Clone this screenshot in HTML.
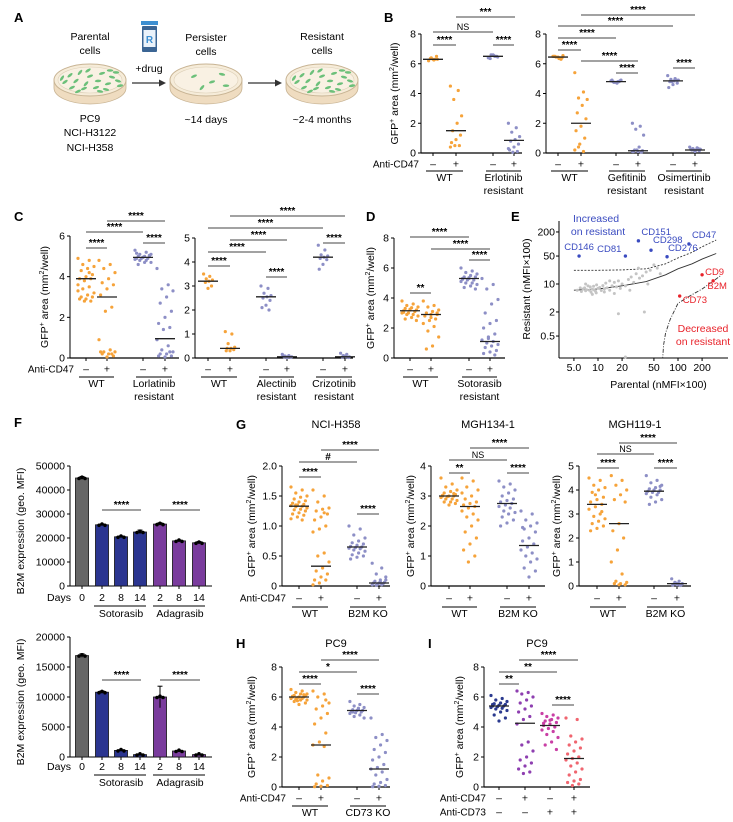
<!DOCTYPE html>
<html><head><meta charset="utf-8"><title>Figure</title>
<style>
html,body{margin:0;padding:0;background:#fff;}
svg{display:block;font-family:"Liberation Sans",Arial,sans-serif;}
</style></head>
<body>
<svg id="fig" width="733" height="822" viewBox="0 0 733 822" xmlns="http://www.w3.org/2000/svg">
<g>
  <text x="14" y="22" font-size="13" font-weight="bold">A</text>
  <text x="90" y="40" font-size="10.5" text-anchor="middle">Parental</text>
  <text x="90" y="54" font-size="10.5" text-anchor="middle">cells</text>
  <text x="206" y="41" font-size="10.5" text-anchor="middle">Persister</text>
  <text x="206" y="55" font-size="10.5" text-anchor="middle">cells</text>
  <text x="322" y="40" font-size="10.5" text-anchor="middle">Resistant</text>
  <text x="322" y="54" font-size="10.5" text-anchor="middle">cells</text>
  <g>
    <rect x="141" y="21" width="17" height="4" fill="#3d8fd1"/>
    <rect x="142" y="26" width="15" height="26" rx="1" fill="#3b6594"/>
    <rect x="143.5" y="30" width="12" height="17" fill="#eaf2fa"/>
    <text x="149.5" y="43" font-size="10" fill="#3d8fd1" text-anchor="middle" font-weight="bold">R</text>
  </g>
  <text x="149" y="72" font-size="10.5" text-anchor="middle">+drug</text>
  <g><line x1="132" y1="83" x2="161" y2="83" stroke="#333" stroke-width="1.2"/><polygon points="166,83 159,79.5 159,86.5" fill="#333"/></g>
  <g><line x1="248" y1="83" x2="277" y2="83" stroke="#333" stroke-width="1.2"/><polygon points="282,83 275,79.5 275,86.5" fill="#333"/></g>
  <g id="dishes"></g>
  <text x="90" y="122" font-size="10.5" text-anchor="middle">PC9</text>
  <text x="90" y="136" font-size="10.5" text-anchor="middle">NCI-H3122</text>
  <text x="90" y="151" font-size="10.5" text-anchor="middle">NCI-H358</text>
  <text x="206" y="123" font-size="10.5" text-anchor="middle">~14 days</text>
  <text x="322" y="123" font-size="10.5" text-anchor="middle">~2-4 months</text>
</g>
<g id="plots"></g>
</svg>
<script>
// ---------- DATA ----------
// Panel B (left): WT -, WT +, Erlotinib-res -, Erlotinib-res +
const bL_wt0=[6.2,6.3,6.4,6.3,6.25,6.35,6.5,6.3];
const bL_wt1=[4.5,4.2,3.6,2.5,2.0,1.5,1.2,0.9,0.7,0.5,0.5,0.4];
const bL_er0=[6.4,6.5,6.6,6.45,6.55,6.35,6.5,6.6,6.4];
const bL_er1=[2.0,1.7,1.4,1.1,0.9,0.8,0.6,0.4,0.2,0.1,0.05,0.3];
const bL_med=[6.3,1.5,6.5,0.85];
// Panel B (right)
const bR_wt0=[6.5,6.4,6.45,6.55,6.35,6.5,6.4,6.45,6.5,6.3];
const bR_wt1=[5.4,4.1,3.7,3.6,3.2,2.7,2.3,1.8,1.5,1.0,0.6,0.2,0.1,0.4];
const bR_gef0=[4.85,4.8,4.75,4.9,4.7,4.8,4.85,4.75,4.9,4.8];
const bR_gef1=[2.0,1.8,1.6,1.2,0.4,0.2,0.15,0.1,0.1,0.05,0.2,0.1];
const bR_osi0=[5.2,5.0,4.95,4.9,4.85,4.8,4.7,4.6,4.4,4.9,4.8];
const bR_osi1=[0.4,0.35,0.3,0.25,0.2,0.2,0.15,0.1,0.25,0.3,0.2];
const bR_med=[6.45,2.0,4.8,0.15,4.85,0.2];
// Panel C (left)
const cL_wt0=[4.9,4.8,4.6,4.5,4.4,4.3,4.1,4.0,3.9,3.9,3.8,3.6,3.5,3.4,3.2,3.1,3.0,3.0,2.9,2.9,2.8,2.8,3.3,4.2];
const cL_wt1=[4.8,4.6,4.4,4.2,3.9,3.7,3.6,3.4,3.1,2.5,2.3,0.9,0.4,0.3,0.3,0.2,0.2,0.1,0.05,0.3,0.2];
const cL_lo0=[5.3,5.2,5.1,5.1,5.0,5.0,5.0,4.95,4.9,4.9,4.9,4.85,4.8,4.8,4.7,4.7,4.6,5.05,4.95,5.15];
const cL_lo1=[4.4,3.6,3.4,3.3,3.0,2.7,2.3,2.0,1.7,1.5,1.4,0.9,0.6,0.4,0.3,0.2,0.2,0.1,0.05,0.1,0.3];
const cL_med=[3.9,3.0,4.95,0.95];
// Panel C (right)
const cR_wt0=[3.5,3.4,3.3,3.25,3.2,3.15,3.0,2.9];
const cR_wt1=[1.1,1.0,0.6,0.45,0.4,0.4,0.35,0.3,0.3];
const cR_al0=[3.0,2.9,2.7,2.6,2.55,2.5,2.4,2.2,2.1,2.0];
const cR_al1=[0.15,0.1,0.08,0.05,0.05,0.04,0.03,0.02,0.1];
const cR_cr0=[4.7,4.5,4.3,4.25,4.2,4.15,4.1,3.9,3.7];
const cR_cr1=[0.2,0.15,0.1,0.05,0.05,0.03,0.02,0.08];
const cR_med=[3.2,0.4,2.55,0.05,4.2,0.05];
// Panel D
const d_wt0=[3.8,3.6,3.5,3.4,3.35,3.3,3.2,3.2,3.15,3.1,3.0,3.0,2.9,2.9,2.8,2.7,2.6,2.5,3.25,3.05];
const d_wt1=[3.8,3.5,3.4,3.2,3.1,3.0,2.9,2.9,2.8,2.6,2.5,2.3,2.1,1.8,1.4,0.8,0.6,3.0,2.7];
const d_so0=[6.0,5.8,5.7,5.6,5.5,5.4,5.4,5.3,5.3,5.2,5.2,5.1,5.0,5.0,4.9,4.8,4.7,4.6,5.35,5.25];
const d_so1=[5.3,4.9,4.6,3.9,3.6,3.0,2.5,2.3,2.0,1.6,1.4,1.2,1.1,1.0,0.9,0.8,0.7,0.5,0.4,0.3,0.2,1.3];
const d_med=[3.15,2.9,5.3,1.1];
// Panel E (log-log scatter)
const eX=[5.5,6,6.2,6.5,6.8,7,7.2,7.5,7.8,8,8.2,8.5,8.8,9,9.3,9.6,10,10.5,11,11.5,12,12.5,13,14,15,16,17,18,19,20,22,24,26,28,30,33,36,40,45,55,18,22,38,50,60,8.5,9.5,12,14,16,7,25,32,42];
const eY=[7,8,6.5,7.5,8,6.8,7.2,9,7,8.5,6.2,7.4,8.8,7.1,6.6,9.5,7.8,8.2,6.9,9.1,7.5,10.5,8,7,9,11,8.5,12,7.8,10,9,13,15,11,18,14,16,20,22,25,1.8,0.15,2,30,18,5.5,6,6.3,12,5.8,10,7,25,10];
const eLabNames=['CD146','CD81','CD151','CD298','CD276','CD47','CD9','B2M','CD73'];
const eLabX=[5.8,22,32,46,73,137,200,275,105];
const eLabY=[50,50,120,70,48,100,17,12,5];
const eSolidX=[5,10,20,40,70,100,150,200,300];
const eSolidY=[7,7.5,9,11.5,17,24,32,42,58];
const eDashX=[5,10,20,40,70,100,150,200,300];
const eDashY=[22,22,22.5,24,32,45,62,85,126];
const eDotX=[64,66,70,80,100,140,200,340];
const eDotY=[0.12,0.3,0.6,1.3,3.3,5,7.5,16];
const eXTicks=[5,10,20,50,100,200];
const eXTickLabels=['5.0','10','20','50','100','200'];
const eYTicks=[0.5,2,10,50,200];
const eYTickLabels=['0.5','2','10','50','200'];
// Panel F
const fDays=['0','2','8','14','2','8','14'];
const fTopVals=[45000,25500,20500,22500,25800,18800,18000];
const fTopErr=[600,300,300,800,500,300,500];
const fBotVals=[16900,10800,1100,400,10000,1000,400];
const fBotErr=[300,200,100,50,1800,100,50];
// Panel G
const g1_a=[1.65,1.6,1.55,1.5,1.48,1.45,1.42,1.4,1.38,1.36,1.35,1.34,1.33,1.32,1.3,1.28,1.27,1.25,1.22,1.2,1.18,1.15,1.12,1.1,1.35,1.31];
const g1_b=[1.6,1.5,1.4,1.3,1.28,1.25,1.2,1.15,1.1,1.0,0.95,0.9,0.55,0.5,0.4,0.3,0.25,0.2,0.15,0.1,0.1,0.05,0.02,1.22];
const g1_c=[1.0,0.95,0.85,0.8,0.75,0.72,0.7,0.68,0.66,0.65,0.64,0.63,0.62,0.6,0.58,0.55,0.52,0.5,0.48,0.45];
const g1_d=[0.38,0.3,0.2,0.15,0.1,0.08,0.06,0.05,0.05,0.04,0.03,0.02,0.02,0.01,0.1,0.07];
const g1_med=[1.33,0.33,0.65,0.05];
const g2_a=[3.6,3.4,3.3,3.2,3.15,3.1,3.05,3.0,3.0,3.0,2.98,2.95,2.9,2.9,2.85,2.8,2.8,2.75,2.7,3.02,3.08];
const g2_b=[3.6,3.5,3.3,3.2,3.0,2.9,2.8,2.75,2.7,2.65,2.6,2.5,2.4,2.3,2.2,2.0,1.8,1.6,1.4,1.2,1.0,0.8,3.1];
const g2_c=[3.5,3.4,3.3,3.2,3.1,3.0,2.9,2.85,2.8,2.75,2.7,2.65,2.6,2.5,2.45,2.4,2.3,2.2,2.1,2.0];
const g2_d=[2.5,2.4,2.2,2.1,2.0,1.9,1.8,1.6,1.5,1.4,1.3,1.2,1.1,1.0,0.9,0.8,0.6,0.5,0.3,1.95];
const g2_med=[3.0,2.65,2.75,1.35];
const g3_a=[4.5,4.4,4.2,4.1,4.0,3.9,3.7,3.6,3.5,3.4,3.3,3.2,3.0,2.9,2.8,2.7,2.6,2.5,2.4,2.3,3.1,3.8];
const g3_b=[4.6,4.4,4.2,4.0,3.8,3.6,3.5,2.6,2.3,2.0,1.5,1.0,0.5,0.2,0.15,0.1,0.1,0.05,0.05];
const g3_c=[4.6,4.4,4.3,4.2,4.1,4.05,4.0,4.0,3.95,3.9,3.9,3.85,3.8,3.7,3.6,3.5,3.4,4.15,3.98];
const g3_d=[0.3,0.2,0.15,0.1,0.1,0.08,0.05,0.05,0.03,0.02,0.12];
const g3_med=[3.4,2.6,3.95,0.1];
// Panel H
const h_a=[6.5,6.4,6.3,6.2,6.2,6.1,6.1,6.0,6.0,6.0,5.95,5.9,5.9,5.85,5.8,5.8,5.7,5.6,5.5,6.05,6.15,5.75];
const h_b=[6.4,6.2,6.0,5.6,5.4,5.2,4.9,4.6,4.2,3.6,3.0,2.8,2.7,0.8,0.6,0.4,0.2,0.1,0.05,0.02,5.8];
const h_c=[5.7,5.5,5.4,5.3,5.2,5.15,5.1,5.1,5.05,5.0,4.95,4.9,4.8,4.7,4.6,5.25,5.0];
const h_d=[4.6,3.5,3.3,3.1,2.8,2.5,2.3,2.0,1.8,1.5,1.3,1.2,1.0,0.8,0.5,0.3,0.2,0.1,0.05,0.02];
const h_med=[6.0,2.8,5.1,1.2];
// Panel I
const i_a=[6.1,5.9,5.8,5.7,5.6,5.55,5.5,5.45,5.4,5.4,5.35,5.3,5.25,5.2,5.1,5.0,4.8,4.6,4.4,5.5];
const i_b=[6.4,6.3,6.2,6.0,5.8,5.6,5.4,5.2,5.0,4.7,4.5,4.2,3.0,2.8,2.4,2.0,1.8,1.6,1.4,1.2,1.0,0.9];
const i_c=[4.9,4.8,4.7,4.6,4.5,4.4,4.3,4.2,4.1,4.0,3.9,3.8,3.7,3.5,3.3,3.0,2.8,2.5,4.45,4.25];
const i_d=[4.6,4.5,3.4,3.2,3.0,2.8,2.6,2.4,2.2,2.0,1.9,1.8,1.6,1.4,1.2,1.0,0.8,0.5,0.4,0.3,0.2,0.1];
const i_med=[5.4,4.25,4.1,1.9];

// ---------- DRAWING ----------
const NS='http://www.w3.org/2000/svg';
const root=document.getElementById('plots');
const OR='#f6a33a', LV='#8d8fc6';
function mk(tag,parent,attrs){const e=document.createElementNS(NS,tag);for(const k in attrs)e.setAttribute(k,attrs[k]);parent.appendChild(e);return e;}
function grp(parent,name){const g=mk('g',parent,{});


return g;}
function txt(parent,name,x,y,s,size,anchor,extra){const t=mk('text',parent,Object.assign({x:x,y:y,'font-size':size,'text-anchor':anchor||'middle'},extra||{}));t.textContent=s;


return t;}
function line(parent,name,x1,y1,x2,y2,stroke,w,extra){const l=mk('line',parent,Object.assign({x1:x1,y1:y1,x2:x2,y2:y2,stroke:stroke||'#000','stroke-width':w||1},extra||{}));


return l;}
function ylabelGFP(parent,x,cy){const t=mk('text',parent,{x:0,y:0,'font-size':10.5,'text-anchor':'middle',transform:'translate('+x+','+cy+') rotate(-90)'});
t.innerHTML='GFP<tspan dy="-4" font-size="7">+</tspan><tspan dy="4"> area (mm</tspan><tspan dy="-4" font-size="7">2</tspan><tspan dy="4">/well)</tspan>';

}

function dotPanel(p){
  const g=grp(root,p.name);
  const ys=v=>p.y0-(v/p.vmax)*(p.y0-p.yTop);
  line(g,'y-axis',p.x0,p.y0,p.x0,p.yTop,'#000',1);
  line(g,'x-axis',p.x0,p.y0,p.xEnd,p.y0,'#000',1.2);
  p.ticks.forEach((t,i)=>{line(g,'y-tick',p.x0-3,ys(t),p.x0,ys(t));
    txt(g,'y-tick-label',p.x0-5,ys(t)+3.5,p.tickLabels?p.tickLabels[i]:String(t),10.5,'end');});
  p.gx.forEach(x=>line(g,'x-tick',x,p.y0,x,p.y0+3));
  if(p.ylx) ylabelGFP(g,p.ylx,(p.y0+p.yTop)/2);
  if(p.title) txt(g,'panel-title',(p.x0+p.xEnd)/2,p.titleY,p.title,11);
  p.data.forEach((arr,gi)=>{
    const dg=grp(g,'dot-group-'+(gi+1));
    const n=arr.length, spread=Math.min(8,2+n*0.3);
    arr.forEach((v,i)=>{const off=(((i*7)%11)-5)/5*spread;
      const c=mk('circle',dg,{cx:p.gx[gi]+off,cy:ys(v),r:1.6,fill:p.colors[gi]});
      
      });
    line(dg,'median-line',p.gx[gi]-10,ys(p.med[gi]),p.gx[gi]+10,ys(p.med[gi]),'#222',1.3);
  });
  (p.sig||[]).forEach(s=>{const sg=grp(g,'significance-bar');
    line(sg,'significance-line',s[1],s[0],s[2],s[0],'#444',1.1);
    txt(sg,'significance-label',(s[1]+s[2])/2,s[0]-2,s[3],s[3]==='NS'?9:10,'middle',s[3]==='NS'?{}:{'font-weight':'bold'});});
  (p.rows||[]).forEach(r=>{if(r.label) txt(g,'row-label',r.lx,r.y+3.5,r.label,10,'end');
    r.signs.forEach((s,i)=>txt(g,'treatment-sign',p.gx[i],r.y+3.5,s,10.5));});
  (p.cats||[]).forEach(c=>{line(g,'category-underline',c[0]-7,p.catY,c[1]+7,p.catY,'#000',1);
    c[2].forEach((s,k)=>txt(g,'category-label',(c[0]+c[1])/2,p.catY+10+k*13,s,10.5));});
}
const pm=['–','+','–','+','–','+'];
// B left
dotPanel({name:'panel-b-left-chart',x0:421,xEnd:522,y0:153,yTop:34,vmax:8,ticks:[0,2,4,6,8],gx:[433,456,493,514],
 data:[bL_wt0,bL_wt1,bL_er0,bL_er1],med:bL_med,colors:[OR,OR,LV,LV],ylx:398,
 sig:[[17,456,515,'***'],[32,433,493,'NS'],[45,433,456,'****'],[45,493,514,'****']],
 rows:[{y:164,label:'Anti-CD47',lx:419,signs:pm.slice(0,4)}],catY:171,cats:[[433,456,['WT']],[493,514,['Erlotinib','resistant']]]});
dotPanel({name:'panel-b-right-chart',x0:546,xEnd:710,y0:153,yTop:34,vmax:8,ticks:[0,2,4,6,8],gx:[558,581,616,638,673,695],
 data:[bR_wt0,bR_wt1,bR_gef0,bR_gef1,bR_osi0,bR_osi1],med:bR_med,colors:[OR,OR,LV,LV,LV,LV],
 sig:[[15,581,695,'****'],[26,558,673,'****'],[38,558,616,'****'],[50,558,581,'****'],[61,581,638,'****'],[73,616,638,'****'],[68,673,695,'****']],
 rows:[{y:164,signs:pm}],catY:171,cats:[[558,581,['WT']],[616,638,['Gefitinib','resistant']],[673,695,['Osimertinib','resistant']]]});
// C
dotPanel({name:'panel-c-left-chart',x0:70,xEnd:179,y0:358,yTop:236,vmax:6,ticks:[0,2,4,6],gx:[86,107,143,165],
 data:[cL_wt0,cL_wt1,cL_lo0,cL_lo1],med:cL_med,colors:[OR,OR,LV,LV],ylx:48,
 sig:[[221,107,165,'****'],[232,86,143,'****'],[248,86,107,'****'],[243,143,165,'****']],
 rows:[{y:369,label:'Anti-CD47',lx:74,signs:pm.slice(0,4)}],catY:377,cats:[[86,107,['WT']],[143,165,['Lorlatinib','resistant']]]});
dotPanel({name:'panel-c-right-chart',x0:195,xEnd:353,y0:358,yTop:238,vmax:5,ticks:[0,1,2,3,4,5],gx:[208,230,266,287,323,345],
 data:[cR_wt0,cR_wt1,cR_al0,cR_al1,cR_cr0,cR_cr1],med:cR_med,colors:[OR,OR,LV,LV,LV,LV],
 sig:[[216,230,345,'****'],[228,208,323,'****'],[240,230,287,'****'],[252,208,266,'****'],[266,208,230,'****'],[277,266,287,'****'],[243,323,345,'****']],
 rows:[{y:369,signs:pm}],catY:377,cats:[[208,230,['WT']],[266,287,['Alectinib','resistant']],[323,345,['Crizotinib','resistant']]]});
// D
dotPanel({name:'panel-d-chart',x0:394,xEnd:505,y0:358,yTop:238,vmax:8,ticks:[0,2,4,6,8],gx:[410,431,469,490],
 data:[d_wt0,d_wt1,d_so0,d_so1],med:d_med,colors:[OR,OR,LV,LV],ylx:374,
 sig:[[237,410,469,'****'],[249,431,490,'****'],[260,469,490,'****'],[293,410,431,'**']],
 rows:[{y:369,signs:pm.slice(0,4)}],catY:377,cats:[[410,431,['WT']],[469,490,['Sotorasib','resistant']]]});
// G
dotPanel({name:'panel-g-h358-chart',x0:282,xEnd:390,y0:586,yTop:466,vmax:2,ticks:[0,0.5,1,1.5,2],tickLabels:['0','0.5','1.0','1.5','2.0'],gx:[299,321,357,379],
 data:[g1_a,g1_b,g1_c,g1_d],med:g1_med,colors:[OR,OR,LV,LV],ylx:255,title:'NCI-H358',titleY:428,
 sig:[[450,321,379,'****'],[462,299,357,'#'],[477,299,321,'****'],[514,357,379,'****']],
 rows:[{y:598,label:'Anti-CD47',lx:286,signs:pm.slice(0,4)}],catY:607,cats:[[299,321,['WT']],[357,379,['B2M KO']]]});
dotPanel({name:'panel-g-mgh134-chart',x0:431,xEnd:545,y0:586,yTop:466,vmax:4,ticks:[0,1,2,3,4],gx:[449,470,507,529],
 data:[g2_a,g2_b,g2_c,g2_d],med:g2_med,colors:[OR,OR,LV,LV],ylx:414,title:'MGH134-1',titleY:428,
 sig:[[448,470,529,'****'],[460,449,507,'NS'],[473,449,470,'**'],[473,507,529,'****']],
 rows:[{y:598,signs:pm.slice(0,4)}],catY:607,cats:[[449,470,['WT']],[507,529,['B2M KO']]]});
dotPanel({name:'panel-g-mgh119-chart',x0:579,xEnd:691,y0:586,yTop:466,vmax:5,ticks:[0,1,2,3,4,5],gx:[597,619,654,677],
 data:[g3_a,g3_b,g3_c,g3_d],med:g3_med,colors:[OR,OR,LV,LV],ylx:560,title:'MGH119-1',titleY:428,
 sig:[[443,619,677,'****'],[454,597,654,'NS'],[468,597,619,'****'],[468,654,677,'****']],
 rows:[{y:598,signs:pm.slice(0,4)}],catY:607,cats:[[597,619,['WT']],[654,677,['B2M KO']]]});
// H
dotPanel({name:'panel-h-chart',x0:282,xEnd:390,y0:787,yTop:667,vmax:8,ticks:[0,2,4,6,8],gx:[299,321,357,379],
 data:[h_a,h_b,h_c,h_d],med:h_med,colors:[OR,OR,LV,LV],ylx:255,title:'PC9',titleY:647,
 sig:[[660,321,379,'****'],[672,299,357,'*'],[684,299,321,'****'],[694,357,379,'****']],
 rows:[{y:798,label:'Anti-CD47',lx:286,signs:pm.slice(0,4)}],catY:806,cats:[[299,321,['WT']],[357,379,['CD73 KO']]]});
// I
dotPanel({name:'panel-i-chart',x0:484,xEnd:590,y0:787,yTop:667,vmax:8,ticks:[0,2,4,6,8],gx:[499,525,550,574],
 data:[i_a,i_b,i_c,i_d],med:i_med,colors:['#2b3a8f','#8e3fb0','#c93fa5','#f0656f'],ylx:463,title:'PC9',titleY:647,
 sig:[[660,519,578,'****'],[672,499,557,'**'],[684,499,519,'**'],[705,552,574,'****']],
 rows:[{y:798,label:'Anti-CD47',lx:486,signs:['–','+','–','+']},{y:812,label:'Anti-CD73',lx:486,signs:['–','–','+','+']}]});

// Panel letters
[['B',384,22],['C',14,221],['D',366,221],['E',511,221],['F',14,427],['G',236,429],['H',236,648],['I',428,648]].forEach(l=>{
  txt(root,'panel-label-'+l[0].toLowerCase(),l[1],l[2],l[0],13,'start',{'font-weight':'bold'});});

// Panel E
(function(){
  const g=grp(root,'panel-e-scatter-chart');
  const x0=559,x1=728,yb=358,yt=221;
  const xs=v=>598+80*Math.log10(v/10);
  const ys=v=>284-40*Math.log10(v/10);
  line(g,'y-axis',x0,yb,x0,yt);line(g,'x-axis',x0,yb,x1,yb);
  eXTicks.forEach((t,i)=>{line(g,'x-tick',xs(t),yb,xs(t),yb+3);txt(g,'x-tick-label',xs(t),yb+13,eXTickLabels[i],10.5);});
  eYTicks.forEach((t,i)=>{line(g,'y-tick',x0-3,ys(t),x0,ys(t));txt(g,'y-tick-label',x0-4,ys(t)+3.5,eYTickLabels[i],10.5,'end');});
  txt(g,'x-axis-title',(x0+x1)/2+15,388,'Parental (nMFI×100)',10.5);
  const yt2=txt(g,'y-axis-title',0,0,'Resistant (nMFI×100)',10.5,'middle',{transform:'translate(530,289) rotate(-90)'});
  const clip=mk('clipPath',g,{id:'eclip'});mk('rect',clip,{x:x0,y:yt-10,width:x1-x0,height:yb-yt+10});
  function curve(X,Y,name,dash){let d='';X.forEach((v,i)=>{d+=(i?'L':'M')+xs(v).toFixed(1)+','+ys(Y[i]).toFixed(1);});
    const p=mk('path',g,{d:d,fill:'none',stroke:'#333','stroke-width':0.9,'clip-path':'url(#eclip)'});if(dash)p.setAttribute('stroke-dasharray',dash);
    
    }
  curve(eSolidX,eSolidY,'fit-line-solid');
  curve(eDashX,eDashY,'threshold-line-upper','2,1.5');
  curve(eDotX,eDotY,'threshold-line-lower','4,1.5,1,1.5');
  eX.forEach((v,i)=>{const c=mk('circle',g,{cx:xs(v),cy:ys(eY[i]),r:1.5,fill:'#c4c4c4'});
    
    });
  const ldx=[0,-4,3,2,1,3,3,4,3], ldy=[-6,-4,-6,-7,-6,-6,0,8,7], lanc=['middle','end','start','start','start','start','start','middle','start'];
  eLabNames.forEach((n,i)=>{const col=i<6?'#3a4bc0':'#e8222a';const c=mk('circle',g,{cx:xs(eLabX[i]),cy:ys(eLabY[i]),r:1.7,fill:col});
    
    
    txt(g,'marker-label',xs(eLabX[i])+ldx[i],ys(eLabY[i])+ldy[i],n,9.5,lanc[i],{fill:col});});
  txt(g,'increased-annotation',596,222,'Increased',10.5,'middle',{fill:'#3a4bc0'});
  txt(g,'increased-annotation-2',598,235,'on resistant',10.5,'middle',{fill:'#3a4bc0'});
  txt(g,'decreased-annotation',703,332,'Decreased',10.5,'middle',{fill:'#e8222a'});
  txt(g,'decreased-annotation-2',703,345,'on resistant',10.5,'middle',{fill:'#e8222a'});
})();

// Panel F
const fColors=['#666','#2b3590','#2b3590','#2b3590','#7a3c9d','#7a3c9d','#7a3c9d'];
const fXs=[82,102,121,140,160,179,199];
function barPanel(name,vals,errs,y0,yTop,vmax,step,daysY,sig){
  const g=grp(root,name);
  const ys=v=>y0-(v/vmax)*(y0-yTop);
  line(g,'y-axis',70,y0,70,yTop);line(g,'x-axis',70,y0,212,y0);
  for(let t=0;t<=vmax;t+=step){line(g,'y-tick',67,ys(t),70,ys(t));txt(g,'y-tick-label',65,ys(t)+3.5,String(t),10.5,'end');}
  vals.forEach((v,i)=>{const r=mk('rect',g,{x:fXs[i]-6.5,y:ys(v),width:13,height:y0-ys(v),fill:fColors[i],stroke:'#111','stroke-width':0.8});
    
    
    line(g,'error-bar',fXs[i],ys(v+errs[i]),fXs[i],ys(v-errs[i]),'#000',1);
    line(g,'error-cap',fXs[i]-2.5,ys(v+errs[i]),fXs[i]+2.5,ys(v+errs[i]),'#000',1);
    [-3,0,3].forEach(o=>{const c=mk('circle',g,{cx:fXs[i]+o,cy:ys(v)+(o===0?-0.8:0.5),r:1.8,fill:'#000'});
      
      });
    line(g,'x-tick',fXs[i],y0,fXs[i],y0+3);
    txt(g,'day-label',fXs[i],daysY+4,fDays[i],10.5);});
  txt(g,'days-label',59,daysY+4,'Days',10.5);
  line(g,'sotorasib-underline',94,daysY+9,146,daysY+9);line(g,'adagrasib-underline',153,daysY+9,205,daysY+9);
  txt(g,'sotorasib-label',121,daysY+20,'Sotorasib',10.5);txt(g,'adagrasib-label',180,daysY+20,'Adagrasib',10.5);
  [[102,141],[160,200]].forEach(s=>{line(g,'significance-line',s[0],sig,s[1],sig,'#444',1.1);txt(g,'significance-label',(s[0]+s[1])/2,sig-2,'****',10,'middle',{'font-weight':'bold'});});
  txt(g,'y-axis-title',0,0,'B2M expression (geo. MFI)',10.5,'middle',{transform:'translate(24,'+((y0+yTop)/2+5)+') rotate(-90)'});
}
barPanel('panel-f-top-chart',fTopVals,fTopErr,586,466,50000,10000,597,510);
barPanel('panel-f-bottom-chart',fBotVals,fBotErr,757,637,20000,5000,766,680);

// Panel A dishes
(function(){
  const host=document.getElementById('dishes');
  const cells=[[-20,-5],[-10,-8],[0,-4],[12,-7],[22,-3],[-25,2],[-14,1],[-4,4],[8,1],[18,4],[28,1],[-18,8],[-6,9],[6,8],[16,10],[-28,-2],[26,-8],[-2,-10],[10,12],[-12,12],[20,-10],[30,6]];
  const few=[[-12,-4],[6,2],[16,-6],[-4,8],[20,6]];
  [[90,cells],[206,few],[322,cells]].forEach((d,k)=>{
    const g=grp(host,'petri-dish-'+(k+1));
    mk('path',g,{d:'M'+(d[0]-36)+',80 L'+(d[0]-36)+',88 A36,16 0 0,0 '+(d[0]+36)+',88 L'+(d[0]+36)+',80 Z',fill:'#efdcc0',stroke:'#c8b494','stroke-width':0.8});
    mk('ellipse',g,{cx:d[0],cy:80,rx:36,ry:16,fill:'#f6ecd9',stroke:'#c8b494','stroke-width':1});
    mk('ellipse',g,{cx:d[0],cy:80,rx:32,ry:13,fill:'#f9f1e3',stroke:'#ddd0b8','stroke-width':0.6});
    d[1].forEach(c=>mk('ellipse',g,{cx:d[0]+c[0],cy:80+c[1]*0.95,rx:3.2,ry:1.3,fill:'#6cc07a',transform:'rotate('+((c[0]*7)%40-20)+' '+(d[0]+c[0])+' '+(80+c[1]*0.95)+')'}));
  });
})();
</script>
</body></html>
